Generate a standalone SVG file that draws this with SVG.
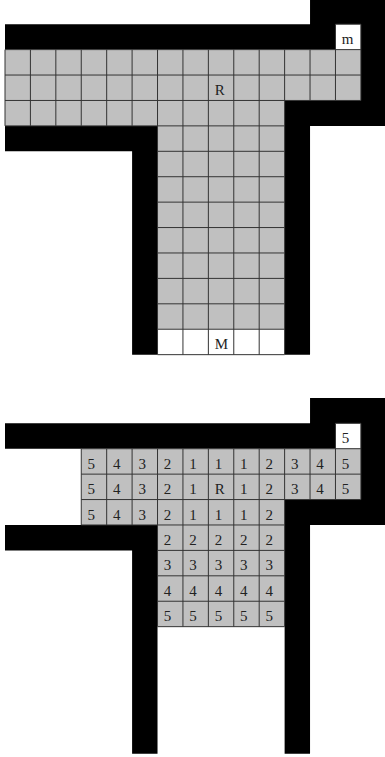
<svg xmlns="http://www.w3.org/2000/svg" width="385" height="757" viewBox="0 0 385 757">
<style>
.blk{fill:#000}
.gry{fill:#c0c0c0}
.wht{fill:#fff}
.grid{fill:none;stroke:#333;stroke-width:1}
.t{font-family:"Liberation Serif","Times New Roman",serif;font-size:15px;fill:#222}
</style>
<rect x="0" y="0" width="385" height="757" fill="#fff"/>
<g id="top-map">
  <path class="blk" d="M5,24.2H310.04V-2H386V125.88H310.04V354.66H284.62V100.46H360.88V49.62H5Z"/>
  <path class="blk" d="M5,125.88H157.52V354.66H132.1V151.3H5Z"/>
  <path class="gry" d="M5,49.62H360.88V100.46H284.62V329.24H157.52V125.88H5Z"/>
  <rect class="wht" x="335.46" y="24.2" width="25.42" height="25.42"/>
  <rect class="wht" x="157.52" y="329.24" width="127.1" height="25.42"/>
  <path class="grid" d="M335.46,24.2H360.88M5,49.62H360.88M5,75.04H360.88M5,100.46H360.88M5,125.88H284.62M157.52,151.3H284.62M157.52,176.72H284.62M157.52,202.14H284.62M157.52,227.56H284.62M157.52,252.98H284.62M157.52,278.4H284.62M157.52,303.82H284.62M157.52,329.24H284.62M157.52,354.66H284.62
  M5,49.62V125.88M30.42,49.62V125.88M55.84,49.62V125.88M81.26,49.62V125.88M106.68,49.62V125.88M132.1,49.62V125.88M157.52,49.62V354.66M182.94,49.62V354.66M208.36,49.62V354.66M233.78,49.62V354.66M259.2,49.62V354.66M284.62,49.62V354.66M310.04,49.62V100.46M335.46,24.2V100.46M360.88,24.2V100.46"/>
  <text class="t" x="341.8" y="44.2">m</text>
  <text class="t" x="214.7" y="95">R</text>
  <text class="t" x="214.8" y="348.7">M</text>
</g>
<g id="bottom-map">
  <path class="blk" d="M5,423.3H310.04V397.88H386V524.98H310.04V753.76H284.62V499.56H360.88V448.72H5Z"/>
  <path class="blk" d="M5,524.98H157.52V753.76H132.1V550.4H5Z"/>
  <path class="gry" d="M81.26,448.72H360.88V499.56H284.62V626.66H157.52V524.98H81.26Z"/>
  <rect class="wht" x="335.46" y="423.3" width="25.42" height="25.42"/>
  <path class="grid" d="M335.46,423.3H360.88M81.26,448.72H360.88M81.26,474.14H360.88M81.26,499.56H360.88M81.26,524.98H284.62M157.52,550.4H284.62M157.52,575.82H284.62M157.52,601.24H284.62M157.52,626.66H284.62
  M81.26,448.72V524.98M106.68,448.72V524.98M132.1,448.72V524.98M157.52,448.72V626.66M182.94,448.72V626.66M208.36,448.72V626.66M233.78,448.72V626.66M259.2,448.72V626.66M284.62,448.72V626.66M310.04,448.72V499.56M335.46,423.3V499.56M360.88,423.3V499.56"/>
  <g id="labels">
    <text class="t" x="341.8" y="443.3">5</text>
    <text class="t" x="87.6" y="468.7">5</text><text class="t" x="113" y="468.7">4</text><text class="t" x="138.4" y="468.7">3</text><text class="t" x="163.8" y="468.7">2</text><text class="t" x="189.2" y="468.7">1</text><text class="t" x="214.7" y="468.7">1</text><text class="t" x="240.1" y="468.7">1</text><text class="t" x="265.5" y="468.7">2</text><text class="t" x="290.9" y="468.7">3</text><text class="t" x="316.3" y="468.7">4</text><text class="t" x="341.8" y="468.7">5</text>
    <text class="t" x="87.6" y="494.1">5</text><text class="t" x="113" y="494.1">4</text><text class="t" x="138.4" y="494.1">3</text><text class="t" x="163.8" y="494.1">2</text><text class="t" x="189.2" y="494.1">1</text><text class="t" x="214.7" y="494.1">R</text><text class="t" x="240.1" y="494.1">1</text><text class="t" x="265.5" y="494.1">2</text><text class="t" x="290.9" y="494.1">3</text><text class="t" x="316.3" y="494.1">4</text><text class="t" x="341.8" y="494.1">5</text>
    <text class="t" x="87.6" y="519.6">5</text><text class="t" x="113" y="519.6">4</text><text class="t" x="138.4" y="519.6">3</text><text class="t" x="163.8" y="519.6">2</text><text class="t" x="189.2" y="519.6">1</text><text class="t" x="214.7" y="519.6">1</text><text class="t" x="240.1" y="519.6">1</text><text class="t" x="265.5" y="519.6">2</text>
    <text class="t" x="163.8" y="545">2</text><text class="t" x="189.2" y="545">2</text><text class="t" x="214.7" y="545">2</text><text class="t" x="240.1" y="545">2</text><text class="t" x="265.5" y="545">2</text>
    <text class="t" x="163.8" y="570.4">3</text><text class="t" x="189.2" y="570.4">3</text><text class="t" x="214.7" y="570.4">3</text><text class="t" x="240.1" y="570.4">3</text><text class="t" x="265.5" y="570.4">3</text>
    <text class="t" x="163.8" y="595.8">4</text><text class="t" x="189.2" y="595.8">4</text><text class="t" x="214.7" y="595.8">4</text><text class="t" x="240.1" y="595.8">4</text><text class="t" x="265.5" y="595.8">4</text>
    <text class="t" x="163.8" y="621.2">5</text><text class="t" x="189.2" y="621.2">5</text><text class="t" x="214.7" y="621.2">5</text><text class="t" x="240.1" y="621.2">5</text><text class="t" x="265.5" y="621.2">5</text>
  </g>
</g>
</svg>
